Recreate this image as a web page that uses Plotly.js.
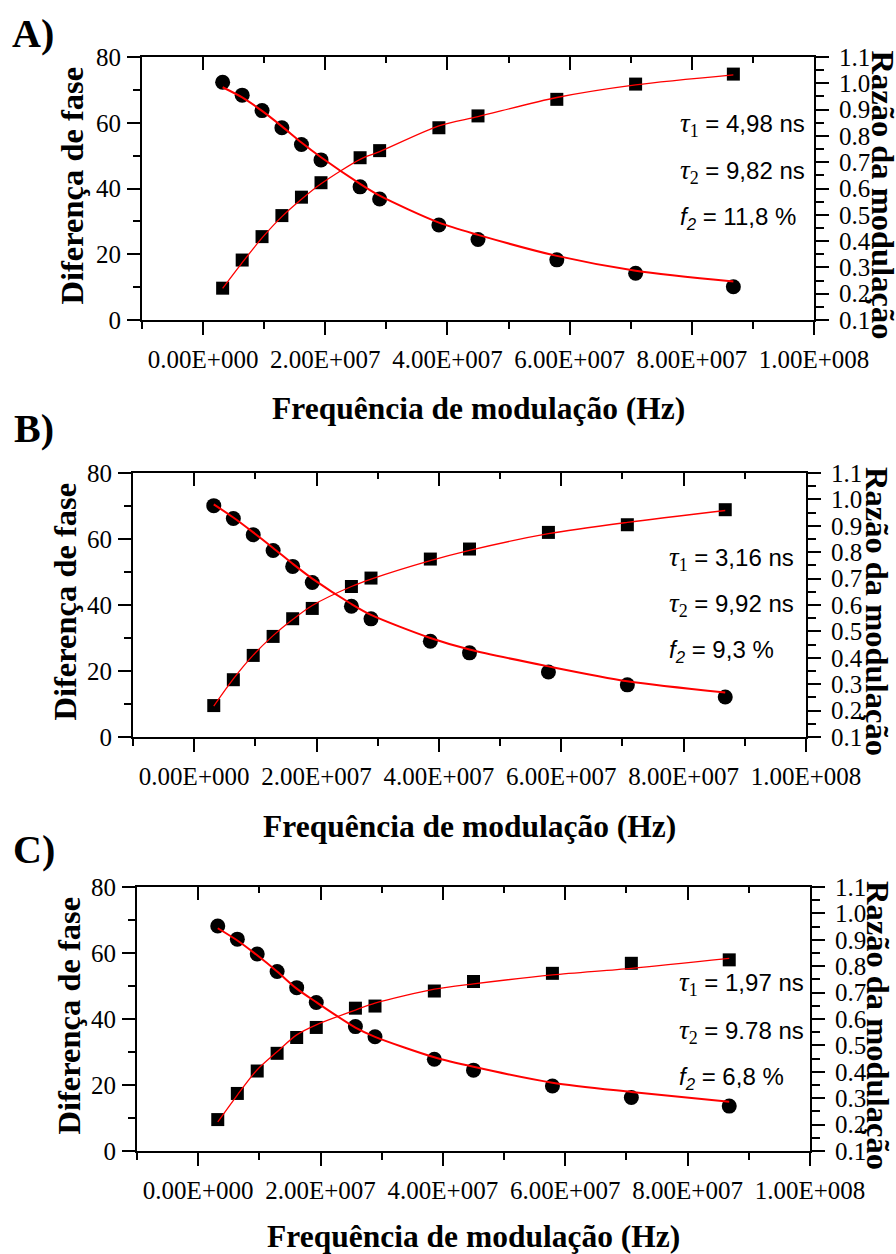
<!DOCTYPE html>
<html>
<head>
<meta charset="utf-8">
<script src="https://cdn.plot.ly/plotly-3.0.1.min.js"></script>
<style>
html,body{margin:0;padding:0;background:#fff;}
#chart{width:896px;height:1254px;}
</style>
</head>
<body>
<div id="chart"></div>
<script>
// ---- data ----
const freq = [3.2e6, 6.4e6, 9.65e6, 1.29e7, 1.61e7, 1.93e7, 2.57e7, 2.89e7, 3.86e7, 4.5e7, 5.79e7, 7.08e7, 8.68e7];

const phaseA    = [72.3, 68.4, 63.7, 58.5, 53.4, 48.7, 40.5, 36.8, 28.9, 24.5, 18.3, 14.2, 10.1];
const phaseFitA = [70.8, 67.7, 63.6, 58.9, 54.0, 49.5, 41.4, 37.8, 29.6, 25.9, 19.5, 15.0, 11.7];
const modA      = [0.221, 0.328, 0.417, 0.497, 0.567, 0.622, 0.717, 0.744, 0.831, 0.876, 0.939, 0.997, 1.035];
const modFitA   = [0.220, 0.318, 0.412, 0.493, 0.559, 0.618, 0.711, 0.740, 0.838, 0.873, 0.946, 0.994, 1.032];

const phaseB    = [70.1, 66.2, 61.3, 56.5, 51.7, 46.8, 39.6, 35.8, 29.0, 25.5, 19.7, 15.8, 12.1];
const phaseFitB = [70.5, 66.5, 62.0, 57.3, 52.5, 48.0, 40.3, 37.0, 30.0, 26.5, 21.4, 16.9, 13.5];
const modB      = [0.219, 0.317, 0.409, 0.481, 0.548, 0.587, 0.670, 0.702, 0.774, 0.812, 0.875, 0.904, 0.961];
const modFitB   = [0.217, 0.320, 0.410, 0.484, 0.545, 0.598, 0.670, 0.698, 0.768, 0.807, 0.870, 0.913, 0.958];

const phaseC    = [68.2, 64.2, 59.7, 54.4, 49.5, 45.0, 37.7, 34.6, 27.8, 24.5, 19.7, 16.2, 13.6];
const phaseFitC = [67.5, 63.8, 59.3, 54.4, 49.2, 45.1, 37.4, 34.6, 28.4, 25.5, 20.7, 17.9, 14.9];
const modC      = [0.219, 0.318, 0.403, 0.470, 0.530, 0.568, 0.641, 0.649, 0.706, 0.742, 0.773, 0.811, 0.824];
const modFitC   = [0.210, 0.312, 0.408, 0.476, 0.540, 0.578, 0.634, 0.660, 0.713, 0.733, 0.767, 0.792, 0.830];

const xTickVals  = [0, 2e7, 4e7, 6e7, 8e7, 1e8];
const xTickText  = ['0.00E+000', '2.00E+007', '4.00E+007', '6.00E+007', '8.00E+007', '1.00E+008'];
const xMinorVals = [-1e7, 1e7, 3e7, 5e7, 7e7, 9e7];

const panelLabels = ['A)', 'B)', 'C)'];
const fitTexts = [
  ['4,98 ns', '9,82 ns', '11,8 %'],
  ['3,16 ns', '9,92 ns', '9,3 %'],
  ['1,97 ns', '9.78 ns', '6,8 %']
];
const xTitle  = 'Frequência de modulação (Hz)';
const yTitle  = 'Diferença de fase';
const y2Title = 'Razão da modulação';

// ---- layout geometry (pixels) ----
const W = 896, H = 1254;
const panels = [
  {phase: phaseA, phaseFit: phaseFitA, mod: modA, modFit: modFitA,
   x0: 142, x1: 814, yt: 57, yb: 320,
   ax: ['x', 'y', 'y2', 'x4'], lab: [33, 34], xt: 409, ytx: 72, y2tx: 882, tx: 678, ty: [122, 168, 215]},
  {phase: phaseB, phaseFit: phaseFitB, mod: modB, modFit: modFitB,
   x0: 133, x1: 806, yt: 473, yb: 737,
   ax: ['x2', 'y3', 'y4', 'x5'], lab: [34, 429], xt: 826, ytx: 64.5, y2tx: 877, tx: 667, ty: [555, 602, 648]},
  {phase: phaseC, phaseFit: phaseFitC, mod: modC, modFit: modFitC,
   x0: 137, x1: 810, yt: 887, yb: 1151,
   ax: ['x3', 'y5', 'y6', 'x6'], lab: [34, 850], xt: 1236, ytx: 68.5, y2tx: 878, tx: 677, ty: [980, 1028, 1075]}
];

const px = v => v / W;
const py = v => 1 - v / H;
const axName = id => (id[0] === 'x' ? 'xaxis' : 'yaxis') + (id.length > 1 ? id.slice(1) : '');

const tickFont = {family: 'Liberation Serif', size: 25, color: '#000'};
const titleFont = {family: 'Liberation Serif', size: 32.5, color: '#000', weight: 'bold'};

const data = [];
const layout = {
  width: W, height: H,
  margin: {l: 0, r: 0, t: 0, b: 0},
  paper_bgcolor: '#fff', plot_bgcolor: 'rgba(0,0,0,0)',
  showlegend: false,
  annotations: []
};

panels.forEach((p, i) => {
  const [xa, ya, y2a, xta] = p.ax;
  const xDom = [px(p.x0), px(p.x1)];
  const yDom = [py(p.yb), py(p.yt)];

  // markers
  data.push({x: freq, y: p.mod, xaxis: xa, yaxis: y2a, type: 'scatter', mode: 'markers',
    marker: {symbol: 'square', size: 13, color: '#000'}, hoverinfo: 'skip'});
  data.push({x: freq, y: p.phase, xaxis: xa, yaxis: ya, type: 'scatter', mode: 'markers',
    marker: {symbol: 'circle', size: 15, color: '#000'}, hoverinfo: 'skip'});
  // fits
  data.push({x: freq, y: p.modFit, xaxis: xa, yaxis: y2a, type: 'scatter', mode: 'lines',
    line: {color: '#ff0000', width: 1.3, shape: 'spline', smoothing: 0.8}, hoverinfo: 'skip'});
  data.push({x: freq, y: p.phaseFit, xaxis: xa, yaxis: ya, type: 'scatter', mode: 'lines',
    line: {color: '#ff0000', width: 2, shape: 'spline', smoothing: 0.8}, hoverinfo: 'skip'});
  // top tick axis holder
  data.push({x: [], y: [], xaxis: xta, yaxis: ya, type: 'scatter', mode: 'markers', hoverinfo: 'skip'});

  layout[axName(xa)] = {
    domain: xDom, anchor: ya, range: [-1e7, 1e8], fixedrange: true,
    tickmode: 'array', tickvals: xTickVals, ticktext: xTickText, tickangle: 0,
    ticks: 'outside', ticklen: 13, tickwidth: 2, tickcolor: '#000',
    minor: {tickmode: 'array', tickvals: xMinorVals, ticks: 'outside', ticklen: 7, tickwidth: 2, tickcolor: '#000'},
    showline: true, linewidth: 2, linecolor: '#000', showgrid: false, zeroline: false,
    tickfont: tickFont, ticklabelstandoff: 3
  };
  layout[axName(xta)] = {
    overlaying: xa, anchor: ya, side: 'top', range: [-1e7, 1e8], fixedrange: true,
    tickmode: 'array', tickvals: xTickVals, showticklabels: false,
    ticks: 'inside', ticklen: 13, tickwidth: 2, tickcolor: '#000',
    minor: {tickmode: 'array', tickvals: xMinorVals, ticks: 'inside', ticklen: 6, tickwidth: 2, tickcolor: '#000'},
    showline: true, linewidth: 2, linecolor: '#000', showgrid: false, zeroline: false
  };
  layout[axName(ya)] = {
    domain: yDom, anchor: xa, range: [0, 80], fixedrange: true,
    tickmode: 'linear', tick0: 0, dtick: 20, tickangle: 0,
    ticks: 'outside', ticklen: 13, tickwidth: 2, tickcolor: '#000',
    minor: {tick0: 0, dtick: 10, ticks: 'outside', ticklen: 7, tickwidth: 2, tickcolor: '#000'},
    showline: true, linewidth: 2, linecolor: '#000', showgrid: false, zeroline: false,
    tickfont: tickFont, ticklabelstandoff: 1
  };
  layout[axName(y2a)] = {
    overlaying: ya, anchor: xa, side: 'right', range: [0.1, 1.1], fixedrange: true,
    tickmode: 'linear', tick0: 0.1, dtick: 0.1, tickformat: '.1f', tickangle: 0,
    ticks: 'outside', ticklen: 13, tickwidth: 2, tickcolor: '#000',
    minor: {tick0: 0.05, dtick: 0.05, ticks: 'outside', ticklen: 8, tickwidth: 2, tickcolor: '#000'},
    showline: true, linewidth: 2, linecolor: '#000', showgrid: false, zeroline: false,
    tickfont: tickFont, ticklabelstandoff: 5
  };

  const cy = (p.yt + p.yb) / 2, cx = (p.x0 + p.x1) / 2;
  // panel label
  layout.annotations.push({xref: 'paper', yref: 'paper', x: px(p.lab[0]), y: py(p.lab[1]),
    xanchor: 'center', yanchor: 'middle', showarrow: false, text: panelLabels[i],
    font: {family: 'Liberation Serif', size: 40, color: '#000', weight: 'bold'}});
  // x title
  layout.annotations.push({xref: 'paper', yref: 'paper', x: px(cx), y: py(p.xt),
    xanchor: 'center', yanchor: 'middle', showarrow: false, text: xTitle,
    font: {family: 'Liberation Serif', size: 31.5, color: '#000', weight: 'bold'}});
  // left y title
  layout.annotations.push({xref: 'paper', yref: 'paper', x: px(p.ytx), y: py(cy - 3),
    xanchor: 'center', yanchor: 'middle', showarrow: false, text: yTitle, textangle: -90,
    font: titleFont});
  // right y title
  layout.annotations.push({xref: 'paper', yref: 'paper', x: px(p.y2tx), y: py(cy + 6),
    xanchor: 'center', yanchor: 'middle', showarrow: false, text: y2Title, textangle: 90,
    font: titleFont});
  // fit parameters
  const tau = k => '<span style="font-family:Liberation Serif;font-style:italic;font-size:27px">τ</span>' +
    '<sub><span style="font-family:Liberation Serif;font-size:18px">' + k + '</span></sub>';
  const lines = [
    tau('1') + ' = ' + fitTexts[i][0],
    tau('2') + ' = ' + fitTexts[i][1],
    '<i>f</i><sub><i>2</i></sub> = ' + fitTexts[i][2]
  ];
  lines.forEach((t, k) => {
    layout.annotations.push({xref: 'paper', yref: 'paper', x: px(p.tx), y: py(p.ty[k] + 3),
      xanchor: 'left', yanchor: 'middle', showarrow: false, text: t,
      font: {family: 'Liberation Sans', size: 24, color: '#000'}});
  });
});

Plotly.newPlot('chart', data, layout, {staticPlot: true, displayModeBar: false});
</script>
</body>
</html>
